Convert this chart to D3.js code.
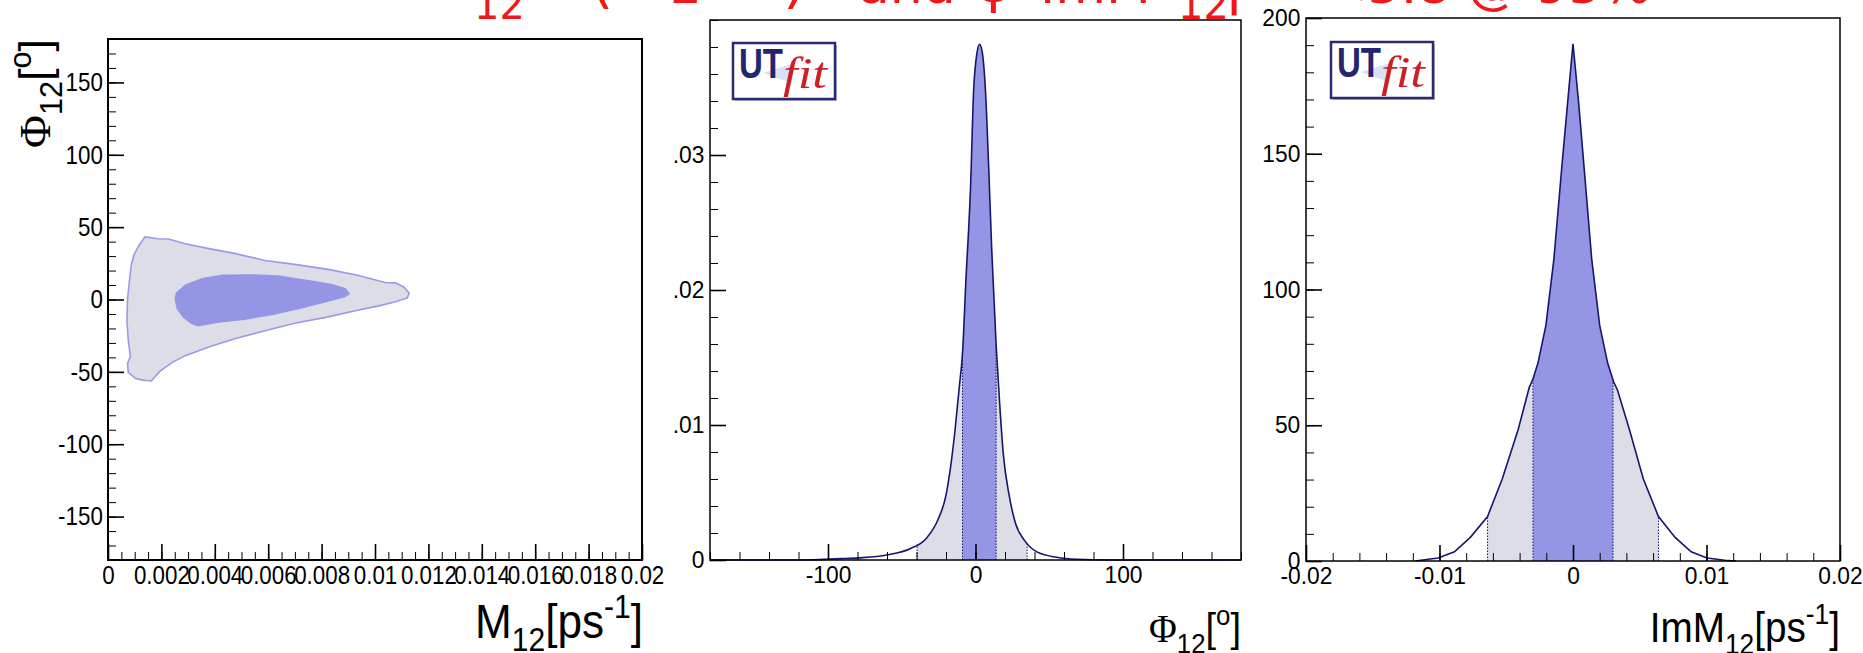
<!DOCTYPE html>
<html>
<head>
<meta charset="utf-8">
<script src="https://cdn.jsdelivr.net/npm/d3@7"></script>
<style>
  body { margin: 0; background: #fff; }
  svg { display: block; font-family: "Liberation Sans", Arial, sans-serif; }
</style>
</head>
<body>
<script>
// ---- data ----
// 2D fit region, [M12 (ps^-1), Phi12 (deg)]
const outerContour = [
  [0.00139, 43.4], [0.00186, 42], [0.00226, 41.8], [0.00289, 38.5], [0.00383, 35],
  [0.00478, 31.7], [0.00588, 27], [0.00699, 24.3], [0.00825, 20.8], [0.00935, 16.7],
  [0.01038, 11.7], [0.01077, 11.5], [0.01109, 8.5], [0.01128, 4.4], [0.01121, 1.1],
  [0.01077, -1.6], [0.01014, -4.4], [0.00935, -7.4], [0.00825, -12], [0.00699, -16.4],
  [0.00588, -21.6], [0.00478, -27], [0.00383, -32.5], [0.00289, -38.8], [0.00241, -43.4],
  [0.00194, -49.7], [0.00162, -56.3], [0.00131, -55.7], [0.00103, -54.6], [0.00076, -50.3],
  [0.00073, -44.3], [0.00084, -39.3], [0.00076, -28.4], [0.00071, -14.8], [0.00073, 0],
  [0.0008, 12.6], [0.00087, 23.5], [0.00096, 30.3], [0.00115, 37.2]
];
const innerContour = [
  [0.00249, 0.3], [0.00254, 4.9], [0.00289, 10.4], [0.00352, 14.8], [0.00431, 17.2],
  [0.00541, 17.5], [0.00636, 16.7], [0.00746, 13.7], [0.00841, 10.7], [0.00891, 7.7],
  [0.00907, 3.8], [0.00888, 1.6], [0.00825, -1.6], [0.0073, -6], [0.0062, -10.7],
  [0.0051, -14.2], [0.00415, -16.1], [0.00336, -18.6], [0.00312, -16.9], [0.00281, -12.6],
  [0.00257, -6.6]
];

// Phi12 posterior, [deg, density]
const phiCurve = [
  [-180, 0], [-120, 0], [-92, 0.0001], [-79, 0.00016], [-60, 0.00037], [-44, 0.00085],
  [-33.4, 0.0016], [-25.4, 0.003], [-20, 0.0048], [-17, 0.0068], [-14, 0.0095],
  [-11, 0.0128], [-8.7, 0.0155], [-6.6, 0.0205], [-3.3, 0.0278], [-1.3, 0.0347], [0.9, 0.0375],
  [2.8, 0.0382], [4.6, 0.0376], [6.8, 0.0347], [8.9, 0.0292], [11, 0.023], [14, 0.0159],
  [16.2, 0.0119], [18.8, 0.0079], [22.8, 0.0048], [26.9, 0.0028], [33.6, 0.0014],
  [41.6, 0.0006], [55, 0.0002], [68.5, 0.00005], [90, 0], [180, 0]
];
const phiBand68 = [-8.8, 14];
const phiBand95 = [-39.6, 35];

// ImM12 posterior, [ps^-1, density]
const imCurve = [
  [-0.0118, 0], [-0.0114, 0.3], [-0.0101, 1.1], [-0.00888, 3.4], [-0.00769, 8.7],
  [-0.0064, 16.4], [-0.0053, 30.2], [-0.0041, 48.5], [-0.00328, 63.9], [-0.00301, 66.9],
  [-0.00262, 73], [-0.00203, 86.8], [-0.00143, 111.3], [-0.00084, 145], [-0.00039, 169.5],
  [0, 190.5], [0.00041, 169.5], [0.00083, 145], [0.0014, 111.3], [0.002, 86.8],
  [0.00259, 73], [0.00304, 66], [0.00333, 63], [0.00422, 48.5], [0.00527, 30.2],
  [0.0064, 16.4], [0.00765, 8.7], [0.00885, 3.4], [0.01003, 1.1], [0.01137, 0.3], [0.0122, 0]
];
const imBand68 = [-0.003, 0.003];
const imBand95 = [-0.0064, 0.0064];

// tick labels
const m12Ticks = [0, 0.002, 0.004, 0.006, 0.008, 0.01, 0.012, 0.014, 0.016, 0.018, 0.02];
const phi2dTicks = [-150, -100, -50, 0, 50, 100, 150];
const phiTicks = [-100, 0, 100];
const densTicks = [0, 0.01, 0.02, 0.03];
const imTicks = [-0.02, -0.01, 0, 0.01, 0.02];
const countTicks = [0, 50, 100, 150, 200];

// ---- drawing ----
const W = 1863, H = 653;
const navy = "#16166e", dark = "#9595e5", light = "#dcdde7", edge = "#9a9ae6";

const svg = d3.select("body").append("svg").attr("width", W).attr("height", H);

function drawAxes(g, x, y, xMajor, xMinor, yMajor, yMinor, fs, sx) {
  const h = y.range()[0];
  g.append("g").attr("transform", `translate(0,${h})`)
    .call(d3.axisBottom(x).tickValues(xMinor).tickSizeInner(-8).tickSizeOuter(0).tickFormat(""));
  g.append("g").attr("class", "major").attr("transform", `translate(0,${h})`)
    .call(d3.axisBottom(x).tickValues(xMajor).tickSizeInner(-16).tickSizeOuter(0).tickPadding(6).tickFormat(d => String(d)));
  g.append("g")
    .call(d3.axisLeft(y).tickValues(yMinor).tickSizeInner(-8).tickSizeOuter(0).tickFormat(""));
  g.append("g").attr("class", "major ylab")
    .call(d3.axisLeft(y).tickValues(yMajor).tickSizeInner(-16).tickSizeOuter(0).tickPadding(6).tickFormat(d => String(d)));
  g.selectAll(".domain").remove();
  g.selectAll(".tick line").attr("stroke", "#000").attr("stroke-width", 1);
  g.selectAll(".major .tick line").attr("stroke-width", 1.6);
  g.selectAll(".tick text").attr("font-size", fs).attr("fill", "#000")
    .attr("font-family", "Liberation Sans, Arial, sans-serif")
    .attr("transform", `scale(${sx},1)`);
}

function physLabel(g, x, y, parts, size, rotate, sx) {
  const t = g.append("text").attr("text-anchor", "end").attr("font-size", size)
    .attr("transform", `translate(${x},${y})` + (rotate ? " rotate(-90)" : "") + ` scale(${sx || 1},1)`);
  let shift = 0;
  parts.forEach(p => {
    const target = p.sub ? 0.27 * size : p.sup ? -0.42 * size : 0;
    t.append("tspan").attr("dy", target - shift)
      .attr("font-size", (p.sub || p.sup) ? size * 0.68 : size)
      .attr("font-family", p.serif ? "Liberation Serif, serif" : null)
      .text(p.t);
    shift = target;
  });
}

function frame(g, w, h, sw) {
  g.append("rect").attr("width", w).attr("height", h)
    .attr("fill", "none").attr("stroke", "#000").attr("stroke-width", sw);
}

function logo(g, x0, y0) {
  const lg = g.append("g").attr("transform", `translate(${x0},${y0})`);
  lg.append("rect").attr("x", 2).attr("y", 2).attr("width", 102).attr("height", 56).attr("fill", "#b8b8cc");
  lg.append("rect").attr("width", 102).attr("height", 56).attr("fill", "#fff")
    .attr("stroke", "#2b2b72").attr("stroke-width", 2.5);
  lg.append("path").attr("d", "M30,30 L62,20 L58,40 Z").attr("fill", "#c9d4f0").attr("opacity", 0.7);
  lg.append("text").attr("x", 6).attr("y", 35).attr("font-size", 42).attr("font-weight", "bold")
    .attr("fill", "#25256f").attr("textLength", 44).attr("lengthAdjust", "spacingAndGlyphs").text("UT");
  lg.append("text").attr("x", 50).attr("y", 45).attr("font-size", 44).attr("font-style", "italic")
    .attr("font-family", "Liberation Serif, serif").attr("fill", "#cc1f24")
    .attr("textLength", 44).attr("lengthAdjust", "spacingAndGlyphs").text("fit");
}

function interp(curve, xv) {
  const i = d3.bisector(d => d[0]).left(curve, xv);
  if (i <= 0) return curve[0][1];
  if (i >= curve.length) return curve[curve.length - 1][1];
  const a = curve[i - 1], b = curve[i];
  return a[1] + (b[1] - a[1]) * (xv - a[0]) / (b[0] - a[0]);
}

function density(g, id, x, y, curve, band68, band95, curveType) {
  const h = y.range()[0];
  const area = d3.area().x(d => x(d[0])).y0(h).y1(d => y(d[1])).curve(curveType);
  const line = d3.line().x(d => x(d[0])).y(d => y(d[1])).curve(curveType);
  [[band95, light, "a"], [band68, dark, "b"]].forEach(([b, col, k]) => {
    g.append("clipPath").attr("id", id + k).append("rect")
      .attr("x", x(b[0])).attr("width", x(b[1]) - x(b[0])).attr("y", -5).attr("height", h + 5);
    g.append("path").attr("d", area(curve)).attr("fill", col).attr("clip-path", `url(#${id + k})`);
  });
  [...band95, ...band68].forEach(v => {
    g.append("line").attr("x1", x(v)).attr("x2", x(v)).attr("y1", h).attr("y2", y(interp(curve, v)))
      .attr("stroke", navy).attr("stroke-width", 1).attr("stroke-dasharray", "1.5,1.5");
  });
  g.append("path").attr("d", line(curve)).attr("fill", "none").attr("stroke", navy).attr("stroke-width", 1.6);
}

// red slide title, only its lower edge is inside the picture
const title = svg.append("g").attr("fill", "#f01818").attr("font-family", "DejaVu Sans, sans-serif");
[
  { t: "12", x: 474, y: 19, s: 40 }, { t: "(", x: 590, y: 1, s: 60 }, { t: "2", x: 670, y: 3, s: 50 },
  { t: ")", x: 783, y: 1, s: 60 }, { t: "and", x: 858, y: 3, s: 52 }, { t: "φ", x: 975, y: 1, s: 56 },
  { t: "ImM", x: 1040, y: 3, s: 52 }, { t: "12", x: 1178, y: 19, s: 40 }, { t: "|", x: 1224, y: 1, s: 60 },
  { t: "<5.8 @ 95%", x: 1324, y: 3, s: 52 }
].forEach(b => title.append("text").attr("x", b.x).attr("y", b.y).attr("font-size", b.s).text(b.t));

// panel 1: 2D region
const p1 = { l: 108, t: 39, r: 642, b: 560 };
const g1 = svg.append("g").attr("transform", `translate(${p1.l},${p1.t})`);
const x1 = d3.scaleLinear().domain([0, 0.02]).range([0, p1.r - p1.l]);
const y1 = d3.scaleLinear().domain([-180, 180]).range([p1.b - p1.t, 0]);
const cline = d3.line().x(d => x1(d[0])).y(d => y1(d[1])).curve(d3.curveLinearClosed);
g1.append("path").attr("d", cline(outerContour)).attr("fill", light).attr("stroke", edge).attr("stroke-width", 1.6);
g1.append("path").attr("d", cline(innerContour)).attr("fill", dark);
drawAxes(g1, x1, y1, m12Ticks, d3.range(0, 0.02001, 0.0005), phi2dTicks, d3.range(-180, 181, 10), 26, 0.86);
frame(g1, p1.r - p1.l, p1.b - p1.t, 2);
physLabel(svg, 50, p1.t, [{ t: "Φ", serif: true }, { t: "12", sub: true }, { t: "[" }, { t: "o", sup: true }, { t: "]" }], 45, true);
physLabel(svg, p1.r + 1, 638, [{ t: "M" }, { t: "12", sub: true }, { t: "[ps" }, { t: "-1", sup: true }, { t: "]" }], 48, false, 0.92);

// panel 2: Phi12
const p2 = { l: 710, t: 20, r: 1241, b: 560 };
svg.append("clipPath").attr("id", "clip2").append("rect").attr("x", 673).attr("y", 0).attr("width", 600).attr("height", H);
const g2o = svg.append("g").attr("clip-path", "url(#clip2)");
const g2 = g2o.append("g").attr("transform", `translate(${p2.l},${p2.t})`);
const x2 = d3.scaleLinear().domain([-180, 180]).range([0, p2.r - p2.l]);
const y2 = d3.scaleLinear().domain([0, 0.04]).range([p2.b - p2.t, 0]);
density(g2, "phi", x2, y2, phiCurve, phiBand68, phiBand95, d3.curveMonotoneX);
drawAxes(g2, x2, y2, phiTicks, d3.range(-180, 181, 20), densTicks, d3.range(0, 0.0401, 0.002), 24, 0.95);
frame(g2, p2.r - p2.l, p2.b - p2.t, 1.5);
logo(g2, 23, 23);
physLabel(svg, p2.r, 642, [{ t: "Φ", serif: true }, { t: "12", sub: true }, { t: "[" }, { t: "o", sup: true }, { t: "]" }], 40, false, 0.95);

// panel 3: ImM12
const p3 = { l: 1306, t: 18, r: 1840, b: 561 };
const g3 = svg.append("g").attr("transform", `translate(${p3.l},${p3.t})`);
const x3 = d3.scaleLinear().domain([-0.02, 0.02]).range([0, p3.r - p3.l]);
const y3 = d3.scaleLinear().domain([0, 200]).range([p3.b - p3.t, 0]);
density(g3, "im", x3, y3, imCurve, imBand68, imBand95, d3.curveLinear);
drawAxes(g3, x3, y3, imTicks, d3.range(-0.02, 0.02001, 0.002), countTicks, d3.range(0, 201, 10), 24, 0.95);
frame(g3, p3.r - p3.l, p3.b - p3.t, 1.5);
logo(g3, 25, 24);
physLabel(svg, p3.r, 642, [{ t: "ImM" }, { t: "12", sub: true }, { t: "[ps" }, { t: "-1", sup: true }, { t: "]" }], 43, false, 0.9);
</script>
</body>
</html>
